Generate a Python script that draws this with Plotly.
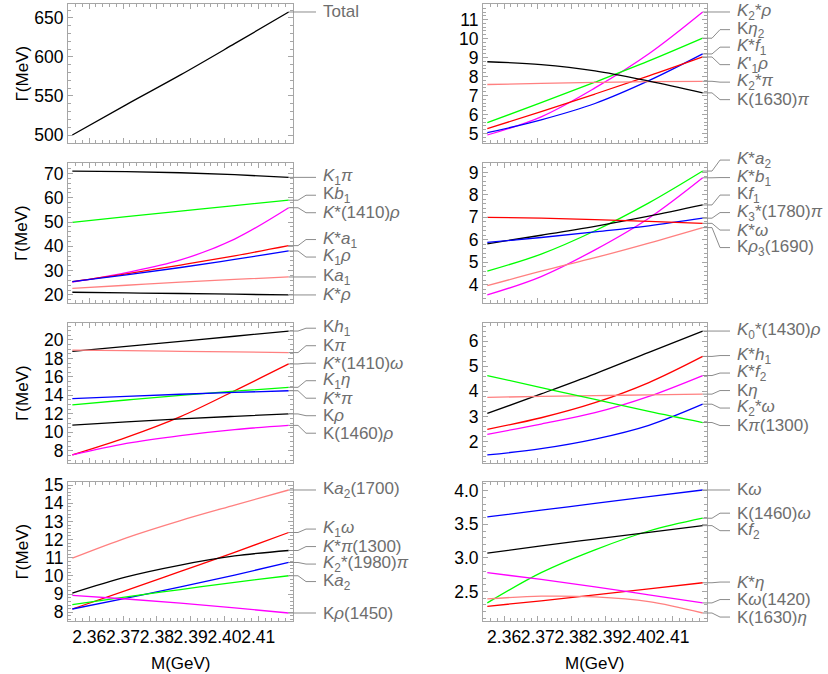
import plotly.graph_objects as go

M_GEV = [2.355, 2.371, 2.387, 2.403, 2.419]

BLACK, GREEN, MAGENTA = "#000000", "#00ff00", "#ff00ff"
RED, BLUE, PINK = "#ff0000", "#0000ff", "#ff8080"

# ---- partial widths Gamma (MeV), one list per channel ----
P1_LABELS = ["Total"]
P1_WIDTHS = [[500.0, 539.0, 577.0, 617.0, 657.6]]
P1_COLORS = [BLACK]

P2_LABELS = [
    "<i>K</i><sub>2</sub>*<i>ρ</i>",
    "K<i>η</i><sub>2</sub>",
    "<i>K</i>*<i>f</i><sub>1</sub>",
    "<i>K</i>'<sub>1</sub><i>ρ</i>",
    "<i>K</i><sub>2</sub>*<i>π</i>",
    "K(1630)<i>π</i>",
]
P2_WIDTHS = [
    [4.92, 5.88, 7.40, 9.20, 11.40],
    [5.57, 6.62, 7.70, 8.82, 10.02],
    [5.04, 5.72, 6.58, 7.78, 9.19],
    [5.25, 6.15, 7.08, 8.03, 9.03],
    [7.58, 7.64, 7.69, 7.73, 7.75],
    [8.78, 8.63, 8.30, 7.76, 7.14],
]
P2_COLORS = [MAGENTA, GREEN, BLUE, RED, PINK, BLACK]

P3_LABELS = [
    "<i>K</i><sub>1</sub><i>π</i>",
    "K<i>b</i><sub>1</sub>",
    "<i>K</i>*(1410)<i>ρ</i>",
    "<i>K</i>*<i>a</i><sub>1</sub>",
    "<i>K</i><sub>1</sub><i>ρ</i>",
    "K<i>a</i><sub>1</sub>",
    "<i>K</i>*<i>ρ</i>",
]
P3_WIDTHS = [
    [71.0, 70.8, 70.3, 69.5, 68.4],
    [49.9, 52.2, 54.5, 56.8, 59.0],
    [25.3, 29.2, 34.4, 43.0, 55.9],
    [25.5, 28.7, 32.3, 36.1, 40.3],
    [25.5, 28.3, 31.3, 34.6, 38.1],
    [22.7, 24.0, 25.3, 26.4, 27.4],
    [21.1, 20.85, 20.6, 20.3, 20.0],
]
P3_COLORS = [BLACK, GREEN, MAGENTA, RED, BLUE, PINK, BLACK]

P4_LABELS = [
    "<i>K</i>*<i>a</i><sub>2</sub>",
    "<i>K</i>*<i>b</i><sub>1</sub>",
    "K<i>f</i><sub>1</sub>",
    "<i>K</i><sub>3</sub>*(1780)<i>π</i>",
    "<i>K</i>*<i>ω</i>",
    "K<i>ρ</i><sub>3</sub>(1690)",
]
P4_WIDTHS = [
    [4.60, 5.36, 6.40, 7.64, 9.06],
    [3.54, 4.36, 5.55, 6.96, 8.76],
    [5.82, 6.20, 6.60, 7.05, 7.55],
    [5.88, 6.10, 6.35, 6.62, 6.96],
    [7.00, 6.96, 6.90, 6.82, 6.73],
    [3.95, 4.60, 5.20, 5.85, 6.54],
]
P4_COLORS = [GREEN, MAGENTA, BLACK, BLUE, RED, PINK]

P5_LABELS = [
    "K<i>h</i><sub>1</sub>",
    "K<i>π</i>",
    "<i>K</i>*(1410)<i>ω</i>",
    "<i>K</i><sub>1</sub><i>η</i>",
    "<i>K</i>*<i>π</i>",
    "K<i>ρ</i>",
    "K(1460)<i>ρ</i>",
]
P5_WIDTHS = [
    [18.75, 19.30, 19.85, 20.40, 20.96],
    [18.90, 18.84, 18.77, 18.70, 18.63],
    [7.55, 9.45, 11.70, 14.50, 17.40],
    [12.98, 13.50, 14.00, 14.45, 14.87],
    [13.65, 13.90, 14.12, 14.32, 14.50],
    [10.77, 11.12, 11.45, 11.73, 11.99],
    [7.55, 8.80, 9.65, 10.30, 10.75],
]
P5_COLORS = [BLACK, PINK, RED, GREEN, BLUE, BLACK, MAGENTA]

P6_LABELS = [
    "<i>K</i><sub>0</sub>*(1430)<i>ρ</i>",
    "<i>K</i>*<i>h</i><sub>1</sub>",
    "<i>K</i>*<i>f</i><sub>2</sub>",
    "K<i>η</i>",
    "<i>K</i><sub>2</sub>*<i>ω</i>",
    "K<i>π</i>(1300)",
]
P6_WIDTHS = [
    [3.12, 3.90, 4.70, 5.55, 6.40],
    [2.49, 2.95, 3.55, 4.35, 5.39],
    [2.29, 2.70, 3.15, 3.80, 4.63],
    [3.76, 3.80, 3.83, 3.86, 3.89],
    [1.47, 1.72, 2.10, 2.65, 3.49],
    [4.63, 4.15, 3.68, 3.20, 2.76],
]
P6_COLORS = [BLACK, RED, MAGENTA, PINK, BLUE, GREEN]

P7_LABELS = [
    "K<i>a</i><sub>2</sub>(1700)",
    "<i>K</i><sub>1</sub><i>ω</i>",
    "<i>K</i>*<i>π</i>(1300)",
    "<i>K</i><sub>2</sub>*(1980)<i>π</i>",
    "K<i>a</i><sub>2</sub>",
    "K<i>ρ</i>(1450)",
]
P7_WIDTHS = [
    [10.98, 12.10, 13.05, 13.90, 14.73],
    [8.18, 9.20, 10.25, 11.30, 12.39],
    [9.06, 9.95, 10.60, 11.10, 11.40],
    [8.18, 8.78, 9.40, 10.05, 10.74],
    [8.42, 8.85, 9.25, 9.65, 10.01],
    [8.93, 8.73, 8.50, 8.24, 7.96],
]
P7_COLORS = [PINK, RED, BLACK, BLUE, GREEN, MAGENTA]

P8_LABELS = [
    "K<i>ω</i>",
    "K(1460)<i>ω</i>",
    "K<i>f</i><sub>2</sub>",
    "<i>K</i>*<i>η</i>",
    "K<i>ω</i>(1420)",
    "K(1630)<i>η</i>",
]
P8_WIDTHS = [
    [3.61, 3.71, 3.81, 3.91, 4.01],
    [2.33, 2.78, 3.12, 3.40, 3.59],
    [3.07, 3.18, 3.28, 3.38, 3.48],
    [2.28, 2.36, 2.45, 2.54, 2.63],
    [2.78, 2.68, 2.57, 2.45, 2.33],
    [2.39, 2.43, 2.42, 2.35, 2.18],
]
P8_COLORS = [BLUE, GREEN, BLACK, RED, MAGENTA, PINK]

X_TICKS = [2.36, 2.37, 2.38, 2.39, 2.40, 2.41]

# (labels, widths, colors, major y step, minor y step, tick format)
PANELS = [
    (P1_LABELS, P1_WIDTHS, P1_COLORS, 50, 10, None),
    (P2_LABELS, P2_WIDTHS, P2_COLORS, 1, 0.2, None),
    (P3_LABELS, P3_WIDTHS, P3_COLORS, 10, 2, None),
    (P4_LABELS, P4_WIDTHS, P4_COLORS, 1, 0.2, None),
    (P5_LABELS, P5_WIDTHS, P5_COLORS, 2, 0.5, None),
    (P6_LABELS, P6_WIDTHS, P6_COLORS, 1, 0.2, None),
    (P7_LABELS, P7_WIDTHS, P7_COLORS, 1, 0.2, None),
    (P8_LABELS, P8_WIDTHS, P8_COLORS, 0.5, 0.1, ".1f"),
]

W, H = 828, 674
COLS_PX = [(68, 293), (483, 707)]
ROWS_PX = [(4, 143), (163, 303), (323, 463), (482, 621)]
FRAME = "#a6a6a6"
CALLOUT = "#8c8c8c"
LABEL_GREY = "#6e6e6e"
FONT = "Liberation Sans, Arial, sans-serif"
LABEL_GAP = 17.5  # px between stacked callout labels


def spread(targets, gap):
    """Push label positions (px, downward) apart so they are at least gap apart."""
    order = sorted(range(len(targets)), key=lambda i: targets[i])
    clusters = []
    for i in order:
        clusters.append([[i], targets[i]])
        while len(clusters) > 1:
            prev, cur = clusters[-2], clusters[-1]
            prev_end = prev[1] + (len(prev[0]) - 1) * gap
            if cur[1] - prev_end >= gap:
                break
            members = prev[0] + cur[0]
            mean = sum(targets[j] for j in members) / len(members)
            clusters[-2:] = [[members, mean - (len(members) - 1) * gap / 2]]
    out = [0.0] * len(targets)
    for members, start in clusters:
        for n, j in enumerate(members):
            out[j] = start + n * gap
    return out


x_span = M_GEV[-1] - M_GEV[0]
x_range = [M_GEV[0] - 0.02 * x_span, M_GEV[-1] + 0.02 * x_span]
x_end_frac = (M_GEV[-1] - x_range[0]) / (x_range[1] - x_range[0])

fig = go.Figure()
shapes, annotations = [], []
tick_font = dict(family=FONT, size=17.5, color="black")

for k, (labels, widths, colors, dtick, minor, fmt) in enumerate(PANELS, start=1):
    row, col = divmod(k - 1, 2)
    sfx = "" if k == 1 else str(k)
    x0, x1 = COLS_PX[col]
    y0, y1 = ROWS_PX[row]
    pw, ph = x1 - x0, y1 - y0

    lo = min(min(w) for w in widths)
    hi = max(max(w) for w in widths)
    pad = 0.065 * (hi - lo)
    y_range = [lo - pad, hi + pad]

    for lab, w, c in zip(labels, widths, colors):
        fig.add_trace(go.Scatter(
            x=M_GEV, y=w, mode="lines", name=lab, showlegend=False,
            line=dict(color=c, width=1.3, shape="spline"),
            xaxis="x" + sfx, yaxis="y" + sfx,
        ))

    bottom = row == len(ROWS_PX) - 1
    fig.layout["xaxis" + sfx] = dict(
        domain=[x0 / W, x1 / W], anchor="y" + sfx, range=x_range,
        tickvals=X_TICKS, tickformat=".2f", showticklabels=bottom,
        tickangle=0, automargin=False,
        ticks="inside", ticklen=5, tickcolor=FRAME,
        minor=dict(ticks="inside", ticklen=3, dtick=0.002, tickcolor=FRAME),
        showline=True, linecolor=FRAME, linewidth=1, mirror="allticks",
        showgrid=False, zeroline=False, tickfont=tick_font,
    )
    fig.layout["yaxis" + sfx] = dict(
        domain=[1 - y1 / H, 1 - y0 / H], anchor="x" + sfx, range=y_range,
        dtick=dtick, tickformat=fmt, automargin=False,
        ticks="inside", ticklen=5, tickcolor=FRAME,
        minor=dict(ticks="inside", ticklen=3, dtick=minor, tickcolor=FRAME),
        showline=True, linecolor=FRAME, linewidth=1, mirror="allticks",
        showgrid=False, zeroline=False, tickfont=tick_font,
    )

    xref, yref = f"x{sfx} domain", f"y{sfx} domain"

    # callout labels, stacked so they do not collide
    ends_px = [(1 - (w[-1] - y_range[0]) / (y_range[1] - y_range[0])) * ph for w in widths]
    lab_px = spread(ends_px, LABEL_GAP)
    for lab, e_px, l_px in zip(labels, ends_px, lab_px):
        ye, yl = 1 - e_px / ph, 1 - l_px / ph
        shapes.append(dict(
            type="path", xref=xref, yref=yref,
            path=(f"M {x_end_frac},{ye} L {1 + 5 / pw},{ye} "
                  f"L {1 + 13 / pw},{yl} L {1 + 23 / pw},{yl}"),
            line=dict(color=CALLOUT, width=1),
        ))
        annotations.append(dict(
            text=lab, xref=xref, yref=yref, x=1 + 28 / pw, y=yl,
            xanchor="left", yanchor="middle", showarrow=False,
            font=dict(family=FONT, size=17, color=LABEL_GREY),
        ))

    if col == 0:
        annotations.append(dict(
            text="Γ(MeV)", xref=xref, yref=yref, x=0, y=0.5, xshift=-46,
            textangle=-90, xanchor="center", yanchor="middle", showarrow=False,
            font=dict(family=FONT, size=17, color="black"),
        ))
    if bottom:
        annotations.append(dict(
            text="M(GeV)", xref=xref, yref=yref, x=0.5, y=0, yshift=-42,
            xanchor="center", yanchor="middle", showarrow=False,
            font=dict(family=FONT, size=17, color="black"),
        ))

fig.update_layout(
    width=W, height=H,
    margin=dict(l=0, r=0, t=0, b=0),
    paper_bgcolor="white", plot_bgcolor="white",
    shapes=shapes, annotations=annotations,
)

# the page body has a default 8px margin; drop it so the 828x674 figure fills the window
fig.write_html(
    "out.html",
    config={"displayModeBar": False},
    post_script="document.body.style.margin = '0';",
)
